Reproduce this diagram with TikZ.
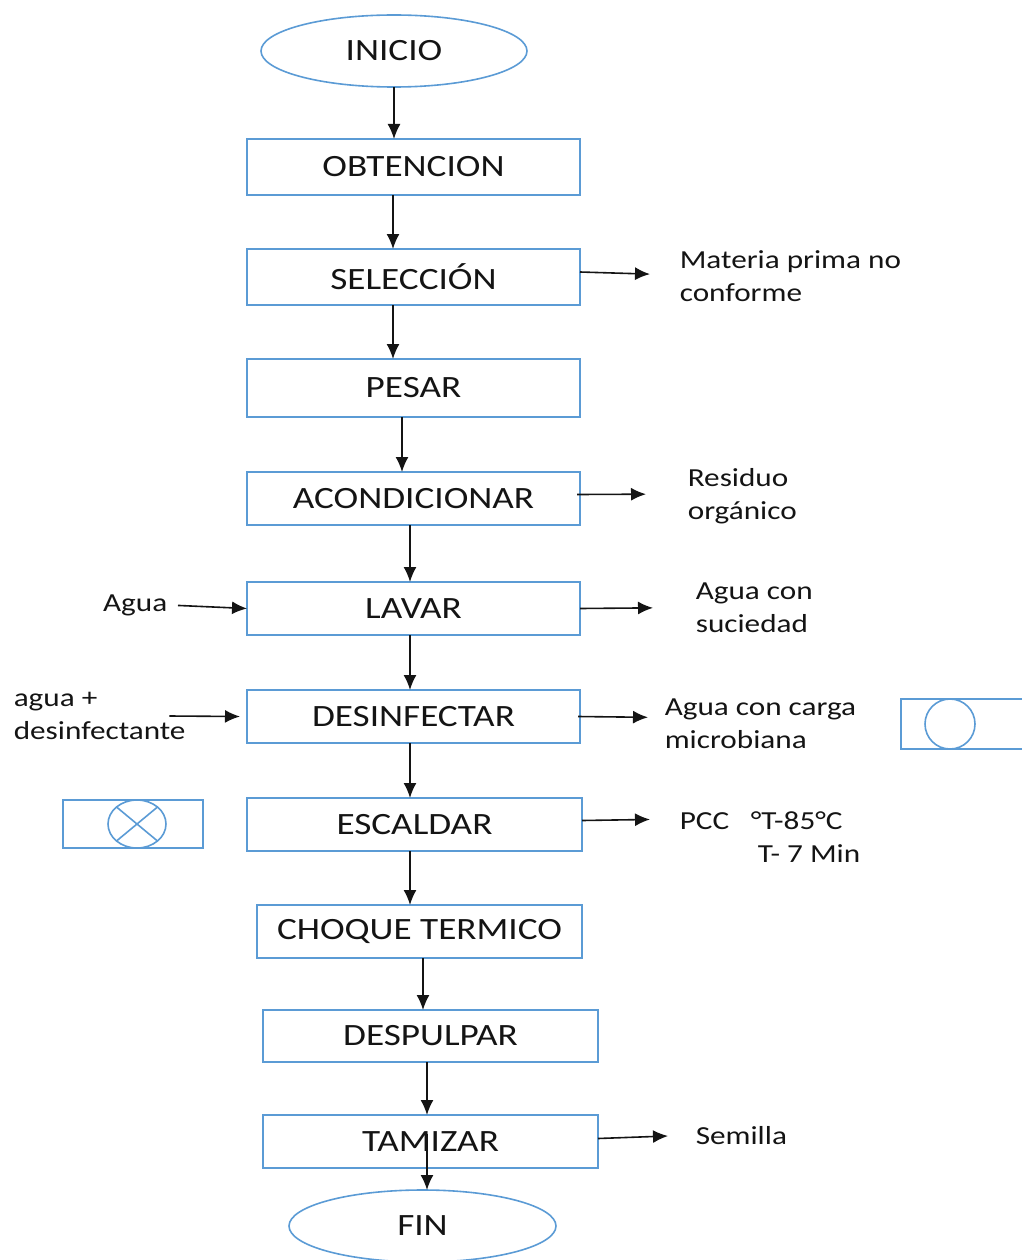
\documentclass[tikz,border=0pt]{standalone}
\usepackage{fontspec}
\setmainfont{Carlito}[FakeStretch=1.2]
\usetikzlibrary{shapes.geometric,arrows.meta}
\definecolor{BoxBlue}{RGB}{91,155,213}
\definecolor{Ink}{RGB}{20,20,20}
\newcommand{\lw}{1.6pt}

\begin{document}
\begin{tikzpicture}[x=1pt, y=-1pt, every path/.append style={line width=\lw},
  paso/.style={draw=BoxBlue, rectangle, minimum width=333pt, minimum height=53pt,
    inner sep=0pt, outer sep=0pt, text=Ink, font=\fontsize{31}{38}\selectfont},
  extremo/.style={draw=BoxBlue, ellipse, minimum width=266pt, minimum height=72pt,
    inner sep=0pt, outer sep=0pt, text=Ink, font=\fontsize{31}{38}\selectfont},
  nota/.style={align=left, inner sep=0pt, text=Ink, font=\fontsize{26}{33}\selectfont},
  simbolo/.style={draw=BoxBlue, rectangle, inner sep=0pt, outer sep=0pt},
  flow/.style={draw=Ink, -{Latex[length=15pt,width=13pt]}}]
  \useasboundingbox (0,0) rectangle (1021,1260);
  % main line
  \node[extremo] (ini) at (394,51) {INICIO};
  \node[paso, minimum height=56pt] (obt) at (413.5,167) {OBTENCION};
  \node[paso, minimum height=56pt] (sel) at (413.5,277) {SELECCIÓN};
  \node[paso, minimum height=58pt] (pes) at (413.5,388) {PESAR};
  \node[paso] (aco) at (413.5,498.5) {ACONDICIONAR};
  \node[paso] (lav) at (413.5,608.5) {LAVAR};
  \node[paso] (des) at (413.5,716.5) {DESINFECTAR};
  \node[paso, minimum width=335pt] (esc) at (414.5,824.5) {ESCALDAR};
  \node[paso, minimum width=325pt] (cho) at (419.5,931.5) {CHOQUE TERMICO};
  \node[paso, minimum width=335pt, minimum height=52pt] (dsp) at (430.5,1036) {DESPULPAR};
  \node[paso, minimum width=335pt] (tam) at (430.5,1141.5) {TAMIZAR};
  \node[extremo, minimum width=267pt] (fin) at (422.5,1226) {FIN};

  % side texts
  \node[nota, anchor=west] (matl) at (679,276) {Materia prima no\\conforme};
  \node[nota, anchor=west] (res) at (687,496) {Residuo\\orgánico};
  \node[nota, anchor=west] (suc) at (695,607.5) {Agua con\\suciedad};
  \node[nota, anchor=east] (agua) at (168,605) {Agua};
  \node[nota, anchor=west] (desf) at (13,716) {agua +\\desinfectante};
  \node[nota, anchor=west] (micro) at (664,723.5) {Agua con carga\\microbiana};
  \node[nota, anchor=west] (pcc) at (679,821) {PCC};
  \node[nota, anchor=west] (temp) at (750,837) {°T-85°C\\\hspace*{7pt}T- 7 Min};
  \node[nota, anchor=west] (sem) at (695,1136) {Semilla};

  % symbols
  \node[simbolo, minimum width=130pt, minimum height=50pt] (sim1) at (966,724) {};
  \draw[BoxBlue] ([xshift=-16pt]sim1.center) circle (25pt);
  \node[simbolo, minimum width=140pt, minimum height=48pt] (sim2) at (133,824) {};
  \draw[BoxBlue] ([xshift=4pt]sim2.center) ellipse (29pt and 24pt);
  \draw[BoxBlue] ([xshift=-16.5pt,yshift=17pt]sim2.center) -- ([xshift=24.5pt,yshift=-17pt]sim2.center);
  \draw[BoxBlue] ([xshift=-16.5pt,yshift=-17pt]sim2.center) -- ([xshift=24.5pt,yshift=17pt]sim2.center);

  % flow
  \draw[flow] (ini.south) -- (ini.south |- obt.north);
  \draw[flow] ([xshift=-20.5pt]obt.south) -- ([xshift=-20.5pt]sel.north);
  \draw[flow] ([xshift=-20.5pt]sel.south) -- ([xshift=-20.5pt]pes.north);
  \draw[flow] ([xshift=-11.5pt]pes.south) -- ([xshift=-11.5pt]aco.north);
  \draw[flow] ([xshift=-3.5pt]aco.south) -- ([xshift=-3.5pt]lav.north);
  \draw[flow] ([xshift=-3.5pt]lav.south) -- ([xshift=-3.5pt]des.north);
  \draw[flow] ([xshift=-3.5pt]des.south) -- ([xshift=-4.5pt]esc.north);
  \draw[flow] ([xshift=-4.5pt]esc.south) -- ([xshift=-9.5pt]cho.north);
  \draw[flow] ([xshift=3.5pt]cho.south) -- ([xshift=-7.5pt]dsp.north);
  \draw[flow] ([xshift=-3.5pt]dsp.south) -- ([xshift=-3.5pt]tam.north);
  \draw[flow] ([xshift=-3.5pt,yshift=8pt]tam.center) -- ([xshift=4.5pt]fin.north);

  % in and out
  \draw[flow, shorten >=29pt] ([yshift=5pt]sel.east) -- ([yshift=1pt]matl.west);
  \draw[flow, shorten >=41pt] ([xshift=-3pt,yshift=4pt]aco.east) -- ([yshift=2pt]res.west);
  \draw[flow, shorten >=42pt] (lav.east) -- (suc.west);
  \draw[flow, shorten <=10pt] (agua.east) -- (lav.west);
  \draw[flow] ([xshift=-17pt]desf.east) -- ([xshift=-7pt]des.west);
  \draw[flow, shorten >=16pt] ([xshift=-2pt]des.east) -- ([yshift=6pt]micro.west);
  \draw[flow, shorten >=29pt] ([yshift=4pt]esc.east) -- ([yshift=2pt]pcc.west);
  \draw[flow, shorten >=27pt] ([yshift=3pt]tam.east) -- ([yshift=1pt]sem.west);
\end{tikzpicture}
\end{document}
